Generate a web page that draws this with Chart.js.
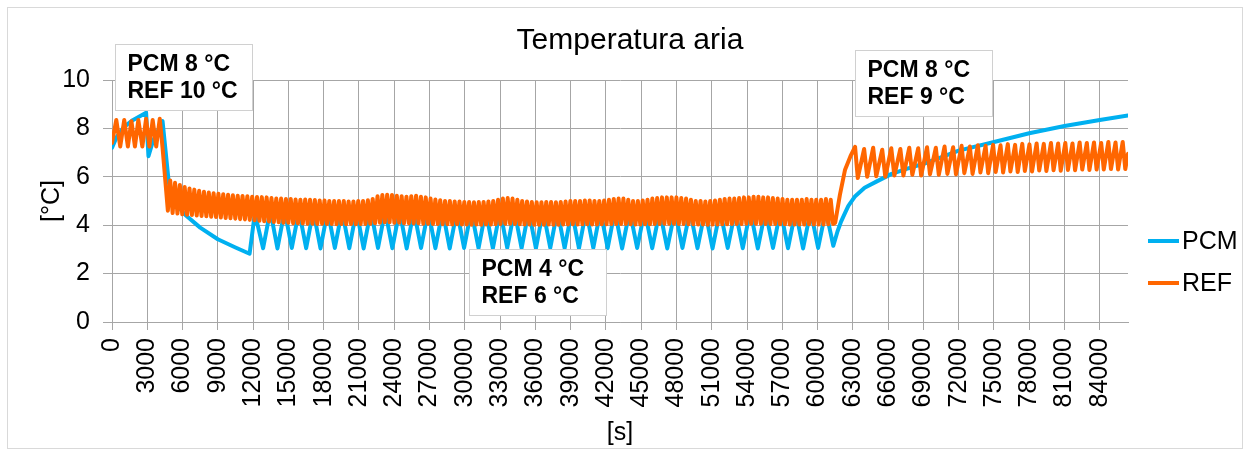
<!DOCTYPE html>
<html>
<head>
<meta charset="utf-8">
<title>Temperatura aria</title>
<script src="https://cdn.jsdelivr.net/npm/chart.js@4.4.1/dist/chart.umd.min.js"></script>
<style>
  html, body { margin: 0; padding: 0; background: #fff; }
  #wrap { width: 1250px; height: 456px; }
</style>
</head>
<body>
<div id="wrap"><canvas id="tempChart" width="1250" height="456"></canvas></div>
<script>
// time [s], temperature [°C] - turning points
const pcmStart = [[0,7.2],[400,7.65],[1000,8.05],[1800,8.35],[2900,8.65],[3100,6.85],[3500,7.5],[4300,8.3],
  [4820,5.8],[5110,5.04],[6240,4.42],[7500,3.9],[9000,3.42],[10500,3.08],[11700,2.82],[12150,4.5]];

const pcmSaw = [[12850,3.05],[13460,4.6],[14070,3.04],[14680,4.6],[15290,3.06],[15900,4.6],[16510,3.05],[17120,4.6],
  [17730,3.04],[18340,4.6],[18950,3.06],[19560,4.6],[20180,3.05],[20790,4.6],[21400,3.04],[22010,4.6],
  [22620,3.06],[23230,4.6],[23840,3.05],[24450,4.6],[25060,3.04],[25670,4.6],[26280,3.06],[26890,4.6],
  [27500,3.05],[28110,4.6],[28720,3.04],[29330,4.6],[29940,3.06],[30550,4.6],[31170,3.05],[31780,4.6],
  [32390,3.04],[33000,4.6],[33610,3.06],[34220,4.6],[34830,3.05],[35440,4.6],[36050,3.04],[36660,4.6],
  [37270,3.06],[37880,4.6],[38490,3.05],[39100,4.6],[39710,3.04],[40320,4.6],[40930,3.06],[41540,4.6],
  [42150,3.05],[42760,4.6],[43380,3.04],[44020,4.6],[44660,3.06],[45300,4.6],[45940,3.05],[46580,4.6],
  [47220,3.04],[47870,4.6],[48510,3.06],[49150,4.6],[49790,3.05],[50430,4.6],[51070,3.04],[51710,4.6],
  [52360,3.06],[53000,4.6],[53640,3.05],[54280,4.6],[54920,3.04],[55560,4.6],[56210,3.06],[56850,4.6],
  [57490,3.05],[58130,4.6],[58770,3.04],[59410,4.6],[60050,3.06],[60700,4.6],[61340,3.15]];

const pcmEnd = [[61700,3.75],[62000,4.15],[62330,4.5],[62620,4.8],[63200,5.2],[64000,5.55],[65000,5.8],
  [66300,6.12],[67700,6.35],[69150,6.56],[70500,6.8],[72000,7.08],[75100,7.45],[78000,7.8],[81000,8.1],
  [84000,8.35],[86400,8.53]];

const refStart = [[0,7.4],[366,8.35],[700,7.25],[1040,8.35],[1350,7.25],[1650,8.3],[1950,7.25],[2240,8.35],
  [2580,7.25],[2900,8.4],[3180,7.25],[3460,8.35],[3760,7.25],[4060,8.4],[4300,7.2],[4750,4.6]];

const refMid = [
  [4950,5.85],[5155,4.5],[5360,5.75],[5565,4.48],[5770,5.66],[5975,4.45],[6180,5.58],[6385,4.43],[6590,5.52],[6795,4.42],
  [7000,5.47],[7205,4.4],[7410,5.42],[7615,4.38],[7820,5.38],[8025,4.37],[8230,5.35],[8435,4.35],[8640,5.32],[8845,4.34],
  [9050,5.3],[9255,4.32],[9460,5.28],[9665,4.3],[9870,5.26],[10075,4.29],[10280,5.24],[10485,4.27],[10690,5.22],[10895,4.25],
  [11100,5.21],[11305,4.24],[11510,5.2],[11715,4.22],[11920,5.18],[12125,4.2],[12330,5.17],[12535,4.18],[12740,5.16],[12945,4.16],
  [13150,5.15],[13355,4.15],[13560,5.12],[13765,4.13],[13970,5.1],[14175,4.12],[14380,5.1],[14585,4.1],[14790,5.08],[14995,4.1],
  [15200,5.08],[15405,4.08],[15610,5.06],[15815,4.08],[16020,5.05],[16225,4.07],[16430,5.06],[16635,4.06],[16840,5.05],[17045,4.06],
  [17250,5.04],[17455,4.05],[17660,5.02],[17865,4.06],[18070,5.02],[18275,4.05],[18480,5.0],[18685,4.05],[18890,5.0],[19095,4.04],
  [19300,5.0],[19505,4.05],[19710,5.0],[19915,4.04],[20120,4.98],[20325,4.05],[20530,4.98],[20735,4.04],[20940,5.0],[21145,4.05],
  [21350,5.0],[21555,4.05],[21760,5.03],[21965,4.06],[22170,5.08],[22375,4.08],[22580,5.2],[22785,4.1],[22990,5.25],[23195,4.12],
  [23400,5.26],[23605,4.12],[23810,5.25],[24015,4.1],[24220,5.22],[24425,4.1],[24630,5.2],[24835,4.08],[25040,5.18],[25245,4.08],
  [25450,5.2],[25655,4.08],[25860,5.22],[26065,4.08],[26270,5.18],[26475,4.06],[26680,5.15],[26885,4.06],[27090,5.1],[27295,4.05],
  [27500,5.06],[27705,4.05],[27910,5.03],[28115,4.04],[28320,5.0],[28525,4.04],[28730,5.0],[28935,4.03],[29140,4.98],[29345,4.04],
  [29550,4.98],[29755,4.03],[29960,4.96],[30165,4.03],[30370,4.96],[30575,4.02],[30780,4.95],[30985,4.03],[31190,4.96],[31395,4.02],
  [31600,4.96],[31805,4.03],[32010,4.98],[32215,4.03],[32420,5.0],[32625,4.04],[32830,5.05],[33035,4.05],[33240,5.1],[33445,4.06],
  [33650,5.12],[33855,4.06],[34060,5.1],[34265,4.05],[34470,5.05],[34675,4.04],[34880,5.0],[35085,4.03],[35290,4.98],[35495,4.03],
  [35700,4.96],[35905,4.02],[36110,4.95],[36315,4.02],[36520,4.95],[36725,4.02],[36930,4.96],[37135,4.03],[37340,4.96],[37545,4.02],
  [37750,4.95],[37955,4.02],[38160,4.96],[38365,4.03],[38570,4.98],[38775,4.03],[38980,5.0],[39185,4.04],[39390,5.0],[39595,4.03],
  [39800,5.0],[40005,4.04],[40210,5.02],[40415,4.04],[40620,5.02],[40825,4.03],[41030,5.0],[41235,4.03],[41440,5.0],[41645,4.04],
  [41850,5.02],[42055,4.04],[42260,5.05],[42465,4.05],[42670,5.08],[42875,4.05],[43080,5.1],[43285,4.05],[43490,5.1],[43695,4.05],
  [43900,5.05],[44105,4.04],[44310,5.0],[44515,4.03],[44720,5.0],[44925,4.03],[45130,5.02],[45335,4.04],[45540,5.05],[45745,4.04],
  [45950,5.1],[46155,4.05],[46360,5.12],[46565,4.05],[46770,5.15],[46975,4.06],[47180,5.15],[47385,4.06],[47590,5.15],[47795,4.06],
  [48000,5.15],[48205,4.05],[48410,5.12],[48615,4.05],[48820,5.1],[49025,4.04],[49230,5.05],[49435,4.04],[49640,5.0],[49845,4.03],
  [50050,5.0],[50255,4.03],[50460,4.98],[50665,4.02],[50870,5.0],[51075,4.03],[51280,5.02],[51485,4.03],[51690,5.05],[51895,4.04],
  [52100,5.08],[52305,4.04],[52510,5.1],[52715,4.05],[52920,5.1],[53125,4.05],[53330,5.12],[53535,4.05],[53740,5.15],[53945,4.06],
  [54150,5.15],[54355,4.06],[54560,5.18],[54765,4.06],[54970,5.18],[55175,4.06],[55380,5.15],[55585,4.05],[55790,5.15],[55995,4.05],
  [56200,5.12],[56405,4.05],[56610,5.1],[56815,4.04],[57020,5.08],[57225,4.04],[57430,5.05],[57635,4.03],[57840,5.05],[58045,4.03],
  [58250,5.05],[58455,4.03],[58660,5.05],[58865,4.03],[59070,5.08],[59275,4.04],[59480,5.05],[59685,4.03],[59890,5.05],[60095,4.03],
  [60300,5.05],[60505,4.03],[60710,5.08],[60915,4.04],[61120,5.05],[61325,4.05]];

const refEnd = [[61500,4.1],[61900,5.25],[62330,6.28],[62800,6.85],[63190,7.24],[63420,5.95],
  [63960,7.15],[64220,6.0],[64730,7.2],[64990,6.02],[65500,7.12],[65760,6.0],[66270,7.18],[66530,6.05],
  [67040,7.15],[67300,6.05],[67800,7.2],[68060,6.08],[68560,7.18],[68810,6.05],[69310,7.22],[69560,6.1],
  [70060,7.2],[70310,6.08],[70800,7.25],[71040,6.12],[71530,7.22],[71770,6.1],[72250,7.28],[72480,6.15],
  [72950,7.25],[73180,6.12],[73630,7.3],[73850,6.18],[74290,7.28],[74510,6.15],[74930,7.32],[75150,6.2],
  [75560,7.3],[75780,6.18],[76180,7.35],[76400,6.22],[76800,7.32],[77020,6.2],[77410,7.36],[77630,6.24],
  [78020,7.34],[78240,6.22],[78630,7.38],[78850,6.26],[79240,7.36],[79460,6.24],[79850,7.4],[80070,6.27],
  [80460,7.38],[80680,6.25],[81070,7.4],[81290,6.28],[81680,7.38],[81900,6.27],[82290,7.42],[82510,6.3],
  [82900,7.4],[83120,6.28],[83510,7.42],[83730,6.3],[84120,7.4],[84340,6.3],[84730,7.44],[84950,6.32],
  [85340,7.42],[85560,6.3],[85950,7.44],[86170,6.32],[86400,6.95]];

const xTicks = [0,3000,6000,9000,12000,15000,18000,21000,24000,27000,30000,33000,36000,39000,42000,
  45000,48000,51000,54000,57000,60000,63000,66000,69000,72000,75000,78000,81000,84000];
const yTicks = [0,2,4,6,8,10];

const seriesNames = ['PCM', 'REF'];
const seriesColors = ['#00B0F0', '#FF6600'];
const chartTitle = 'Temperatura aria';
const xTitle = '[s]';
const yTitle = '[°C]';

// text boxes: anchor in data units (top-left corner)
const notes = [
  { x: 220, y: 11.5, lines: ['PCM 8 °C', 'REF 10 °C'] },
  { x: 30380, y: 3.01, lines: ['PCM 4 °C', 'REF 6 °C'] },
  { x: 63190, y: 11.26, lines: ['PCM 8 °C', 'REF 9 °C'] }
];

const FONT = '"Liberation Sans", Arial, sans-serif';
const toXY = arr => arr.map(p => ({ x: p[0], y: p[1] }));
const pcmData = toXY(pcmStart.concat(pcmSaw, pcmEnd));
const refData = toXY(refStart.concat(refMid, refEnd));

// white page + thin frame
const framePlugin = {
  id: 'frame',
  beforeDraw(chart) {
    const c = chart.ctx;
    c.save();
    c.fillStyle = '#fff';
    c.fillRect(0, 0, chart.width, chart.height);
    c.strokeStyle = '#d9d9d9';
    c.lineWidth = 1;
    c.strokeRect(7.5, 7.5, 1235, 441);
    c.restore();
  }
};

// title, text boxes and legend
const extrasPlugin = {
  id: 'extras',
  afterDatasetsDraw(chart) {
    const c = chart.ctx;
    const xs = chart.scales.x, ys = chart.scales.y;
    c.save();
    c.fillStyle = '#000';
    c.font = '30px ' + FONT;
    c.textAlign = 'center';
    c.textBaseline = 'middle';
    c.fillText(chartTitle, 630, 41);

    notes.forEach(n => {
      const left = Math.round(xs.getPixelForValue(n.x)) + 0.5;
      const top = Math.round(ys.getPixelForValue(n.y)) + 0.5;
      c.fillStyle = '#fff';
      c.fillRect(left, top, 137, 66);
      c.strokeStyle = '#d0d0d0';
      c.lineWidth = 1;
      c.strokeRect(left, top, 137, 66);
      c.fillStyle = '#000';
      c.font = 'bold 23px ' + FONT;
      c.textAlign = 'left';
      n.lines.forEach((t, i) => c.fillText(t, left + 12, top + 20 + i * 27));
    });

    seriesNames.forEach((name, i) => {
      const y = 241 + i * 42;
      c.strokeStyle = seriesColors[i];
      c.lineWidth = 4;
      c.beginPath();
      c.moveTo(1148, y);
      c.lineTo(1179, y);
      c.stroke();
      c.fillStyle = '#000';
      c.font = '25px ' + FONT;
      c.textAlign = 'left';
      c.fillText(name, 1182, y + 1);
    });
    c.restore();
  }
};

const ctx = document.getElementById('tempChart').getContext('2d');
const tempChart = new Chart(ctx, {
  type: 'line',
  data: {
    datasets: [
      { label: seriesNames[0], data: pcmData, borderColor: seriesColors[0], borderWidth: 4,
        pointRadius: 0, tension: 0, borderJoinStyle: 'round', borderCapStyle: 'round', order: 1 },
      { label: seriesNames[1], data: refData, borderColor: seriesColors[1], borderWidth: 4,
        pointRadius: 0, tension: 0, borderJoinStyle: 'round', borderCapStyle: 'round', order: 0 }
    ]
  },
  options: {
    responsive: false,
    animation: false,
    events: [],
    layout: { padding: { top: 80, right: 122, left: 0, bottom: 0 } },
    plugins: { legend: { display: false }, title: { display: false }, tooltip: { enabled: false } },
    scales: {
      x: {
        type: 'linear', min: 0, max: 86400,
        afterBuildTicks: s => { s.ticks = xTicks.map(v => ({ value: v })); },
        ticks: { autoSkip: false, minRotation: 90, maxRotation: 90,
                 padding: 8, color: '#000', font: { family: FONT, size: 25 }, callback: v => String(v) },
        grid: { color: '#a6a6a6', lineWidth: 1, tickLength: 8 },
        border: { color: '#a6a6a6' },
        title: { display: true, text: xTitle, color: '#000', font: { family: FONT, size: 25 },
                 padding: { top: 0, bottom: 8 } },
        afterFit: s => { s.height = 134; }
      },
      y: {
        min: 0, max: 10,
        afterBuildTicks: s => { s.ticks = yTicks.map(v => ({ value: v })); },
        ticks: { padding: 13, color: '#000', font: { family: FONT, size: 25 } },
        grid: { color: '#a6a6a6', lineWidth: 1, tickLength: 9 },
        border: { color: '#a6a6a6' },
        title: { display: true, text: yTitle, color: '#000', font: { family: FONT, size: 25 },
                 padding: { top: 37, bottom: 0 } },
        afterFit: s => { s.width = 112; }
      }
    }
  },
  plugins: [framePlugin, extrasPlugin]
});
</script>
</body>
</html>
